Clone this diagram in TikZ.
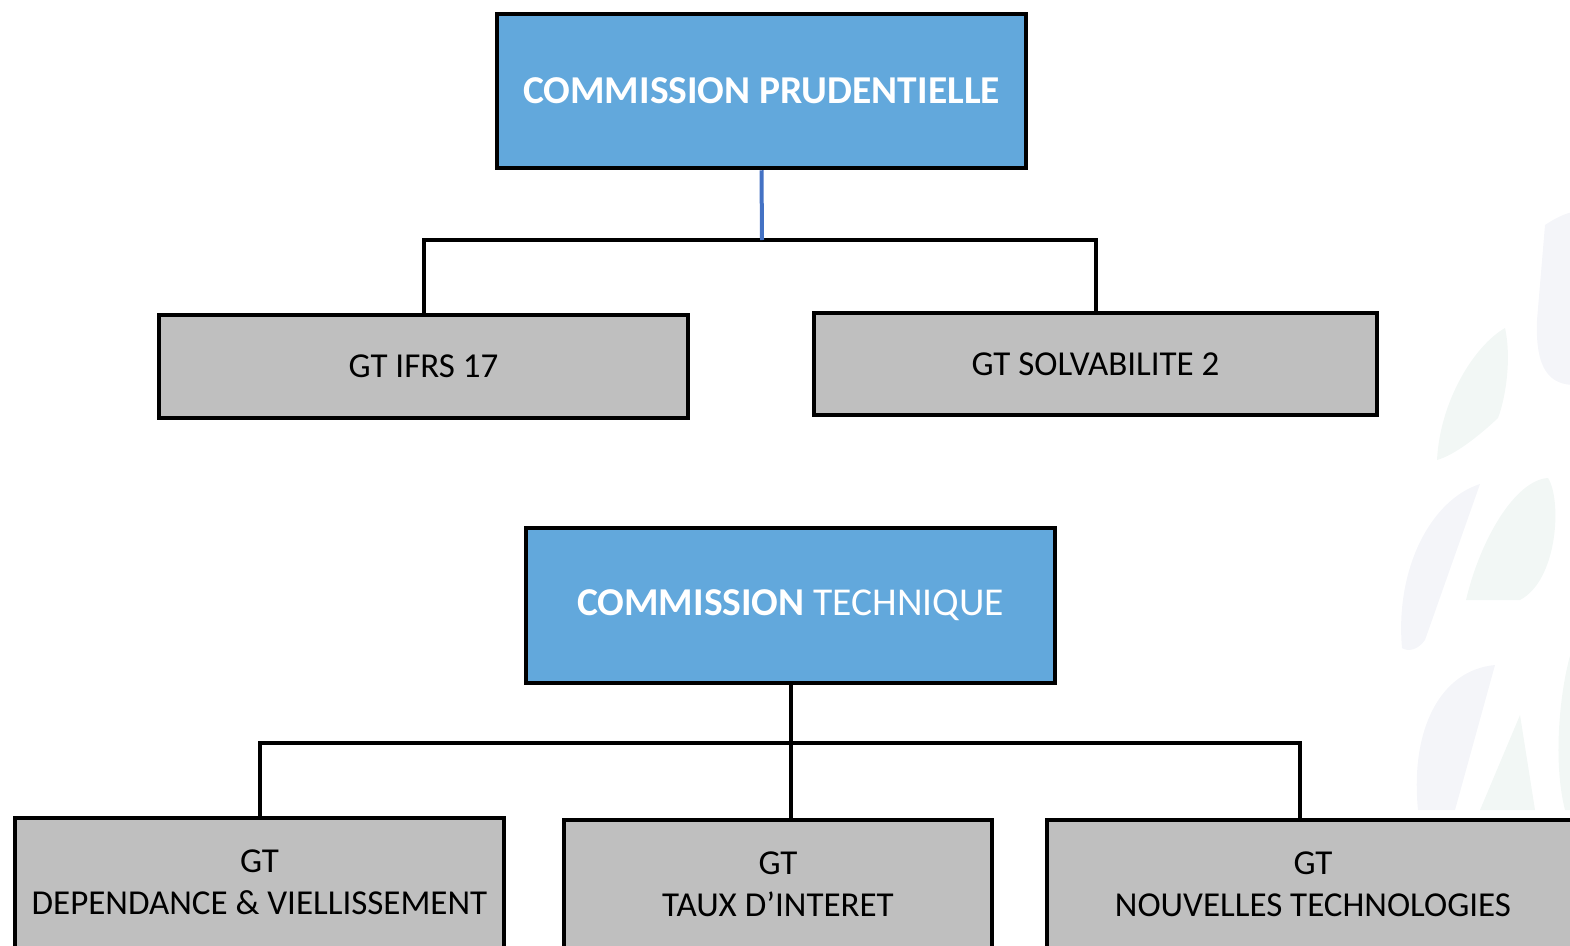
\documentclass[tikz,border=0pt]{standalone}
\usepackage{fontspec}
\setmainfont{Carlito}
\definecolor{bleucomm}{RGB}{98,168,220}
\definecolor{bleulien}{RGB}{68,114,196}
\definecolor{grisgt}{RGB}{191,191,191}
\definecolor{feuilleA}{RGB}{242,247,245}
\definecolor{feuilleB}{RGB}{244,245,249}

\begin{document}
\begin{tikzpicture}[x=1pt,y=-1pt,
  box/.style={draw,line width=4.5pt,inner sep=0pt,align=center,font=\fontsize{35}{42}\selectfont},
  gt/.style={box,fill=grisgt},
  gtbas/.style={gt,minimum height=142pt,text depth=14pt},
  comm/.style={box,fill=bleucomm,text=white,font=\fontsize{39.5}{46}\selectfont},
  lien/.style={line width=4pt}]
\useasboundingbox (0,0) rectangle (1570,945);
\clip (0,0) rectangle (1570,945);
\fill[feuilleA] (1437,460) .. controls (1440,400) and (1475,345) .. (1505,328) .. controls (1512,360) and (1505,400) .. (1498,418) .. controls (1480,435) and (1455,455) .. cycle;
\fill[feuilleB] (1402,648) .. controls (1395,570) and (1430,500) .. (1480,484) -- (1425,640) .. controls (1418,650) and (1408,652) .. cycle;
\fill[feuilleA] (1466,600) .. controls (1480,540) and (1515,480) .. (1548,478) .. controls (1562,500) and (1558,580) .. (1520,600) -- cycle;
\fill[feuilleB] (1418,810) .. controls (1410,730) and (1440,670) .. (1495,665) -- (1455,810) -- cycle;
\fill[feuilleA] (1480,810) -- (1520,715) -- (1535,810) -- cycle;
\fill[feuilleB] (1545,225) .. controls (1560,215) and (1570,212) .. (1575,212) -- (1575,385) .. controls (1550,385) and (1535,370) .. (1537,320) -- cycle;
\fill[feuilleA] (1575,640) .. controls (1560,680) and (1552,760) .. (1565,810) -- (1575,810) -- cycle;
\node[comm,minimum width=529pt,minimum height=154pt] (cp) at (761.5,91) {\textbf{COMMISSION PRUDENTIELLE}};
\node[gt,minimum width=529pt,minimum height=103pt] (ifrs) at (423.5,366.5) {GT IFRS 17};
\node[gt,minimum width=563pt,minimum height=102pt] (solv) at (1095.5,364) {GT SOLVABILITE 2};
\node[comm,minimum width=529pt,minimum height=155pt] (ct) at (790.5,605.5) {\textbf{COMMISSION} TECHNIQUE};
\node[gtbas,minimum width=489pt] (dv) at (259.5,889) {GT\\DEPENDANCE \& VIELLISSEMENT};
\node[gtbas,minimum width=428pt] (ti) at (778,891) {GT\\TAUX D’INTERET};
\node[gtbas,minimum width=532pt] (nt) at (1313,891) {GT\\NOUVELLES TECHNOLOGIES};
\coordinate (busP) at (762,240);
\coordinate (busT) at (790.5,743);
\draw[lien] (ifrs.north) |- (busP) -| (solv.north);
\draw[lien,bleulien] (cp.south) -- (busP);
\draw[lien] (dv.north) |- (busT) -| ([xshift=-13pt]nt.north);
\draw[lien] (ct.south) -- (ct.south |- ti.north);
\end{tikzpicture}
\end{document}
